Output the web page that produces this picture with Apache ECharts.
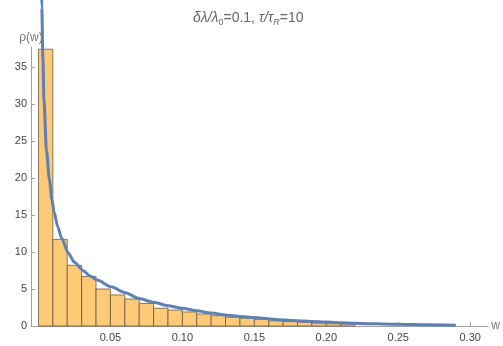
<!DOCTYPE html>
<html>
<head>
<meta charset="utf-8">
<script src="https://cdn.jsdelivr.net/npm/echarts@6/dist/echarts.min.js"></script>
<style>html,body{margin:0;padding:0;background:#fff}#c{width:503px;height:346px}</style>
</head>
<body>
<div id="c"></div>
<script>
// Histogram bins (left edges, width 0.01) and heights
var binLeft = [0, 0.01, 0.02, 0.03, 0.04, 0.05, 0.06, 0.07, 0.08, 0.09, 0.10, 0.11, 0.12, 0.13, 0.14, 0.15, 0.16, 0.17, 0.18, 0.19, 0.20, 0.21];
var binHeight = [37.4, 11.7, 8.2, 6.7, 5.0, 4.2, 3.65, 3.05, 2.4, 2.15, 1.9, 1.62, 1.4, 1.18, 1.05, 0.9, 0.7, 0.6, 0.5, 0.4, 0.3, 0.25];
var binWidth = 0.01;
// Analytic curve rho(w)
var curveW = [0.0021, 0.0023, 0.0031, 0.0038, 0.0055, 0.0076, 0.0093, 0.0109, 0.0134, 0.016, 0.0206, 0.025, 0.0309, 0.0355, 0.0408, 0.0505, 0.0603, 0.07, 0.08, 0.09, 0.1, 0.11, 0.12, 0.132, 0.14, 0.15, 0.1666, 0.18, 0.19, 0.2, 0.21, 0.22, 0.23, 0.24, 0.25, 0.27, 0.29];
var curveRho = [46, 43, 36, 30.6, 23.8, 19.8, 17.1, 15.4, 13.4, 11.9, 9.9, 8.6, 7.5, 6.8, 6.2, 5.3, 4.5, 3.7, 3.2, 2.75, 2.4, 2.05, 1.75, 1.45, 1.3, 1.15, 0.85, 0.72, 0.62, 0.53, 0.45, 0.38, 0.32, 0.27, 0.23, 0.16, 0.11];
// Tick labels
var xTicks = [0.05, 0.10, 0.15, 0.20, 0.25, 0.30];
var yTicks = [0, 5, 10, 15, 20, 25, 30, 35];
var yMinor = [1,2,3,4,6,7,8,9,11,12,13,14,16,17,18,19,21,22,23,24,26,27,28,29,31,32,33,34,36,37];

var histData = binLeft.map(function (l, i) { return [l, l + binWidth, binHeight[i]]; });
var curveData = curveW.map(function (w, i) { return [w, curveRho[i]]; });

var axisGray = '#a0a0a0';
var ff = 'Liberation Sans, Arial, sans-serif';
var labelStyle = { color: '#444', fontSize: 11, fontFamily: ff };

var chart = echarts.init(document.getElementById('c'), null, { renderer: 'canvas' });
chart.setOption({
  animation: false,
  title: {
    left: 188, top: 5,
    text: '{i|δλ/λ}{s|0}{n|=0.1, }{i|τ/τ}{si|R}{n|=10}',
    textStyle: {
      fontWeight: 'normal',
      rich: {
        i: { fontStyle: 'italic', fontWeight: 'normal', fontSize: 14, color: '#666', fontFamily: ff },
        n: { fontSize: 14, fontWeight: 'normal', color: '#666', fontFamily: ff },
        s: { fontSize: 9, fontWeight: 'normal', color: '#666', verticalAlign: 'bottom', padding: [8, 0, 0, 0], fontFamily: ff },
        si: { fontSize: 9, fontWeight: 'normal', color: '#666', fontStyle: 'italic', verticalAlign: 'bottom', padding: [8, 0, 0, 0], fontFamily: ff }
      }
    }
  },
  grid: { left: 31, right: 11, top: 47, bottom: 20, containLabel: false },
  xAxis: [{
    type: 'value', min: -0.0052, max: 0.3126,
    name: 'w', nameLocation: 'end', nameGap: 3,
    nameTextStyle: { color: '#777', fontSize: 12, fontFamily: ff, verticalAlign: 'middle' },
    axisLine: { show: true, onZero: false, lineStyle: { color: axisGray, width: 1 } },
    axisTick: { show: true, inside: true, length: 4, customValues: xTicks, lineStyle: { color: axisGray } },
    axisLabel: Object.assign({ customValues: xTicks, margin: 6, formatter: function (v) { return v.toFixed(2); } }, labelStyle),
    splitLine: { show: false }
  }],
  yAxis: [{
    type: 'value', min: 0, max: 37.7,
    name: 'ρ(w)', nameLocation: 'end', nameGap: 3,
    nameTextStyle: { color: '#777', fontSize: 12, fontFamily: ff, align: 'center' },
    axisLine: { show: true, onZero: false, lineStyle: { color: axisGray, width: 1 } },
    axisTick: { show: true, inside: true, length: 4, customValues: yTicks, lineStyle: { color: axisGray } },
    axisLabel: Object.assign({ customValues: yTicks, margin: 4 }, labelStyle),
    splitLine: { show: false }
  }, {
    type: 'value', min: 0, max: 37.7, position: 'left',
    axisLine: { show: false },
    axisTick: { show: true, inside: true, length: 2, customValues: yMinor, lineStyle: { color: axisGray } },
    axisLabel: { show: false },
    splitLine: { show: false }
  }],
  series: [{
    type: 'custom',
    xAxisIndex: 0, yAxisIndex: 0,
    data: histData,
    z: 2,
    renderItem: function (params, api) {
      var p0 = api.coord([api.value(0), api.value(2)]);
      var p1 = api.coord([api.value(1), 0]);
      return {
        type: 'rect',
        shape: { x: p0[0], y: p0[1], width: p1[0] - p0[0], height: p1[1] - p0[1] },
        style: { fill: '#fdca78', stroke: '#6b5a45', lineWidth: 0.8 }
      };
    }
  }, {
    type: 'line',
    xAxisIndex: 0, yAxisIndex: 0,
    data: curveData,
    smooth: 0.25,
    smoothMonotone: 'x',
    showSymbol: false,
    clip: false,
    z: 3,
    lineStyle: { color: '#5e81b5', width: 3 }
  }]
});
</script>
</body>
</html>
